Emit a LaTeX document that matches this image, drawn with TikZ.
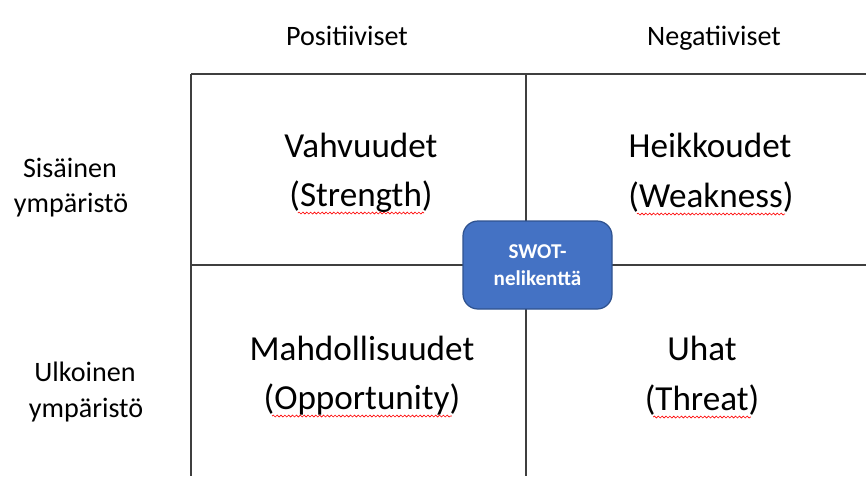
\documentclass[tikz,border=0pt]{standalone}
\usepackage{fontspec}
\setmainfont{Carlito}
\usepackage{xcolor}
\usetikzlibrary{positioning,decorations.pathmorphing}

\definecolor{swotblue}{HTML}{4472C4}
\definecolor{swotedge}{HTML}{2F528F}
\definecolor{gridgray}{HTML}{3F3F3F}

\begin{document}
\begin{tikzpicture}[
  lbl/.style={anchor=base, inner sep=0pt, font=\fontsize{16}{19}\selectfont},
  ttl/.style={anchor=base, inner sep=0pt, font=\fontsize{20}{24}\selectfont},
  swot/.style={draw=swotedge, fill=swotblue, rounded corners=8.5pt, line width=0.7pt,
    minimum width=2.98cm, minimum height=1.76cm, align=center, text=white,
    font=\fontsize{12}{15}\selectfont\bfseries},
  gridline/.style={draw=gridgray, line width=0.75pt},
  squig/.style={draw=red, line width=0.35pt, decorate,
    decoration={snake, amplitude=0.55pt, segment length=2.2pt}}
]
\useasboundingbox (0,0) rectangle (17.32,-9.52);
% ---------------- grid
\coordinate (gtl) at (3.82,-1.48);
\coordinate (gtm) at (10.52,-1.48);
\coordinate (gml) at (3.82,-5.30);
\draw[gridline] (gtl) -- (17.32,-1.48);
\draw[gridline] (gml) -- (17.32,-5.30);
\draw[gridline] (gtl) -- (gtl |- 0,-9.52);
\draw[gridline] (gtm) -- (gtm |- 0,-9.52);
% ---------------- column and row headings
\node[lbl] (pos) at (6.94,-0.90) {Positiiviset};
\node[lbl] (neg) at (14.28,-0.90) {Negatiiviset};
\node[lbl] (sis1) at (1.40,-3.54) {Sisäinen};
\node[lbl] (sis2) at (1.42,-4.24) {ympäristö};
\node[lbl] (ulk1) at (1.70,-7.62) {Ulkoinen};
\node[lbl] (ulk2) at (1.72,-8.34) {ympäristö};
% ---------------- quadrants
\node[ttl] (vah) at (7.22,-3.14) {Vahvuudet};
\node[ttl] (str) at (7.22,-4.12) {(Strength)};
\node[ttl] (hei) at (14.20,-3.14) {Heikkoudet};
\node[ttl] (wea) at (14.22,-4.14) {(Weakness)};
\node[ttl] (mah) at (7.24,-7.20) {Mahdollisuudet};
\node[ttl] (opp) at (7.24,-8.18) {(Opportunity)};
\node[ttl] (uha) at (14.04,-7.20) {Uhat};
\node[ttl] (thr) at (14.04,-8.20) {(Threat)};
% ---------------- spell-check marks
\foreach \w in {str,wea,opp,thr}
  \draw[squig] ([xshift=5pt,yshift=-4pt]\w.base west) -- ([xshift=-5pt,yshift=-4pt]\w.base east);
% ---------------- centre box
\node[swot] (box) at (10.75,-5.30) {SWOT-\\nelikenttä};
\end{tikzpicture}
\end{document}
